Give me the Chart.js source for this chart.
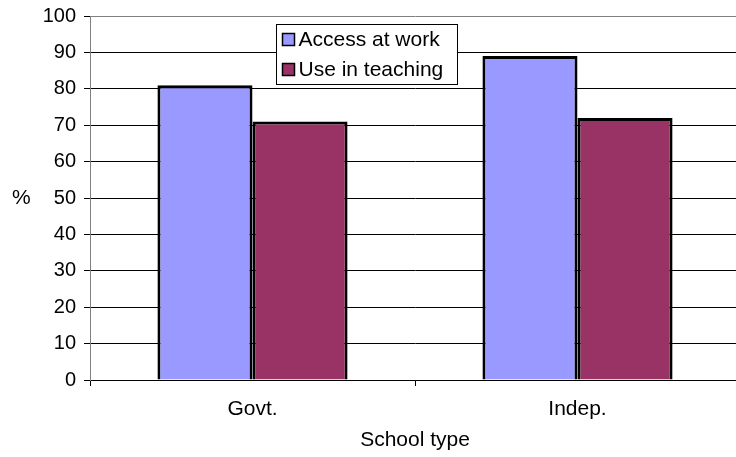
<!DOCTYPE html>
<html lang="en">
<head>
    <meta charset="UTF-8">
    <title>School type</title>
    <script src="https://cdn.jsdelivr.net/npm/chart.js"></script>
    <style>
        html, body {
            margin: 0;
            padding: 0;
            background: #fff;
            overflow: hidden;
        }
        #wrap {
            width: 746px;
            height: 457px;
        }
    </style>
</head>
<body>
    <div id="wrap"><canvas id="schoolChart" width="746" height="457"></canvas></div>

    <script>
        const schoolTypes = ['Govt.', 'Indep.'];
        const accessAtWork = [81, 89];
        const useInTeaching = [71, 72];
        const seriesNames = ['Access at work', 'Use in teaching'];

        const FONT = 'Liberation Sans, Arial, sans-serif';

        // legend box sits inside the plot, plus the unrotated "%" axis label
        const boxedLegend = {
            id: 'boxedLegend',
            afterDraw(chart) {
                const ctx = chart.ctx;
                const area = chart.chartArea;
                ctx.save();
                ctx.font = '21px ' + FONT;
                ctx.fillStyle = '#000';
                ctx.textBaseline = 'middle';
                ctx.textAlign = 'left';
                ctx.fillText('%', 12, 198);

                const x = area.left + 186.5, y = 24.5, w = 181, h = 60;
                ctx.fillStyle = '#fff';
                ctx.fillRect(x, y, w, h);
                ctx.strokeStyle = '#000';
                ctx.lineWidth = 1;
                ctx.strokeRect(x, y, w, h);

                chart.data.datasets.forEach((ds, i) => {
                    const cy = y + 15 + i * 30;
                    ctx.fillStyle = ds.backgroundColor;
                    ctx.fillRect(x + 6, cy - 6, 12, 12);
                    ctx.strokeStyle = '#000';
                    ctx.lineWidth = 1.5;
                    ctx.strokeRect(x + 6, cy - 6, 12, 12);
                    ctx.fillStyle = '#000';
                    ctx.fillText(ds.label, x + 22, cy + 1);
                });
                ctx.restore();
            }
        };

        new Chart(document.getElementById('schoolChart'), {
            type: 'bar',
            data: {
                labels: schoolTypes,
                datasets: [{
                    label: seriesNames[0],
                    data: accessAtWork,
                    backgroundColor: '#9999FF',
                    borderColor: '#000',
                    borderWidth: 3,
                    borderSkipped: 'start'
                }, {
                    label: seriesNames[1],
                    data: useInTeaching,
                    backgroundColor: '#993366',
                    borderColor: '#000',
                    borderWidth: 3,
                    borderSkipped: 'start'
                }]
            },
            plugins: [boxedLegend],
            options: {
                responsive: false,
                animation: false,
                layout: { padding: { top: 16, right: 6, left: 0, bottom: 0 } },
                datasets: {
                    bar: { categoryPercentage: 0.585, barPercentage: 1 }
                },
                plugins: {
                    legend: { display: false },
                    tooltip: { enabled: false }
                },
                scales: {
                    x: {
                        afterFit(scale) { scale.height = 77; },
                        grid: {
                            offset: true,
                            drawOnChartArea: false,
                            drawTicks: true,
                            tickLength: 6,
                            color: '#000'
                        },
                        border: { color: '#000', width: 1 },
                        ticks: {
                            color: '#000',
                            padding: 11,
                            font: { family: FONT, size: 21 }
                        },
                        title: {
                            display: true,
                            text: 'School type',
                            color: '#000',
                            padding: { top: 4, bottom: 4 },
                            font: { family: FONT, size: 21 }
                        }
                    },
                    y: {
                        min: 0,
                        max: 100,
                        afterFit(scale) {
                            scale.width = 90;
                            scale.paddingTop = 0;
                            scale.paddingBottom = 0;
                        },
                        grid: {
                            color: ctx => ctx.tick && ctx.tick.value === 100 ? '#808080' : '#000',
                            tickColor: '#000',
                            tickLength: 6,
                            lineWidth: 1
                        },
                        border: { color: '#808080', width: 1 },
                        ticks: {
                            stepSize: 10,
                            color: '#000',
                            padding: 8,
                            font: { family: FONT, size: 20 }
                        }
                    }
                }
            }
        });
    </script>
</body>
</html>
